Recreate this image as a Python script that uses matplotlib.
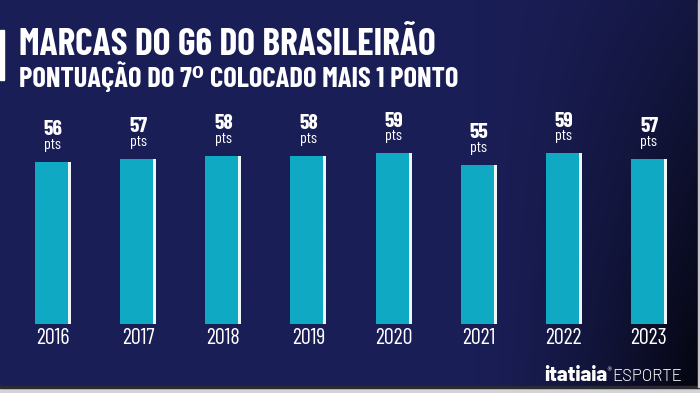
import numpy as np
import matplotlib
matplotlib.use("Agg")
import matplotlib.pyplot as plt
from matplotlib.patches import Rectangle

years = ["2016", "2017", "2018", "2019", "2020", "2021", "2022", "2023"]
points = [56, 57, 58, 58, 59, 55, 59, 57]

title = "MARCAS DO G6 DO BRASILEIRÃO"
subtitle = "PONTUAÇÃO DO 7\u2070 COLOCADO MAIS 1 PONTO"

W, H = 700, 393
cond = ["Barlow Condensed", "DejaVu Sans"]

fig = plt.figure(figsize=(W / 100, H / 100), dpi=100)

# background: navy with darker vignette on the right
bg = fig.add_axes([0, 0, 1, 1])
xx, yy = np.meshgrid(np.linspace(0, 1, 350), np.linspace(0, 1, 200))
base = np.array([26, 30, 86]) / 255.0
dark = np.clip((xx - 0.68) / 0.32, 0, 1) ** 1.4 * (0.3 + 0.7 * yy)
shade = 1 - 0.85 * dark
img = base[None, None, :] * shade[:, :, None]
bg.imshow(img, extent=[0, W, H, 0], aspect="auto", interpolation="bilinear")
bg.set_xlim(0, W)
bg.set_ylim(H, 0)
bg.axis("off")
bg.add_patch(Rectangle((0, 30), 4, 50, color="white"))
bg.add_patch(Rectangle((0, 387), W, 6, color="#d4d4d6"))
bg.add_patch(Rectangle((0, 386), W, 1.5, color="#2a2a30"))
bg.add_patch(Rectangle((697.5, 0), 2.5, 387, color="#c8c8cc"))

# titles
fig.text(19 / W, 1 - 55 / H, title, color="white", fontsize=27,
         fontweight="bold", family=cond, va="baseline", ha="left")
fig.text(19 / W, 1 - 87 / H, subtitle, color="white", fontsize=20.5,
         fontweight="bold", family=cond, va="baseline", ha="left")

# bars
unit = 85.14
ax = fig.add_axes([10.4 / W, 69 / H, 8 * unit / W, 232 / H])
ax.patch.set_alpha(0)
x = np.arange(len(years))
ax.bar(x - 1.5 / unit, points, width=33 / unit, color="#10a9c4", zorder=2)
ax.bar(x + 16.5 / unit, points, width=3 / unit, color="#eef6f8", zorder=2)
ax.set_xlim(-0.5, len(years) - 0.5)
ax.set_ylim(0, 80)
for s in ax.spines.values():
    s.set_visible(False)
ax.set_yticks([])
ax.set_xticks(x)
ax.set_xticklabels(years, family=cond, fontsize=16, color="white")
ax.tick_params(axis="x", length=0, pad=3)

for xi, v in zip(x, points):
    ax.annotate(str(v), (xi, v), xytext=(0, 19), textcoords="offset points",
                ha="center", va="baseline", color="white", fontsize=15.5,
                fontweight="bold", family=cond)
    ax.annotate("pts", (xi, v), xytext=(0, 9), textcoords="offset points",
                ha="center", va="baseline", color="white", fontsize=11.5,
                family=cond)

# logo
fig.text(544 / W, 1 - 381 / H, "itatiaia", color="white", fontsize=14.5,
         fontweight=800, family=["Barlow", "DejaVu Sans"], va="baseline", ha="left")
fig.text(606 / W, 1 - 371 / H, "®", color="white", fontsize=4,
         family="DejaVu Sans", va="baseline", ha="left")
fig.text(612 / W, 1 - 381 / H, "ESPORTE", color="white", fontsize=12,
         fontweight=300, family=["Barlow", "DejaVu Sans"], va="baseline", ha="left")

fig.savefig("out.png", dpi=100)
